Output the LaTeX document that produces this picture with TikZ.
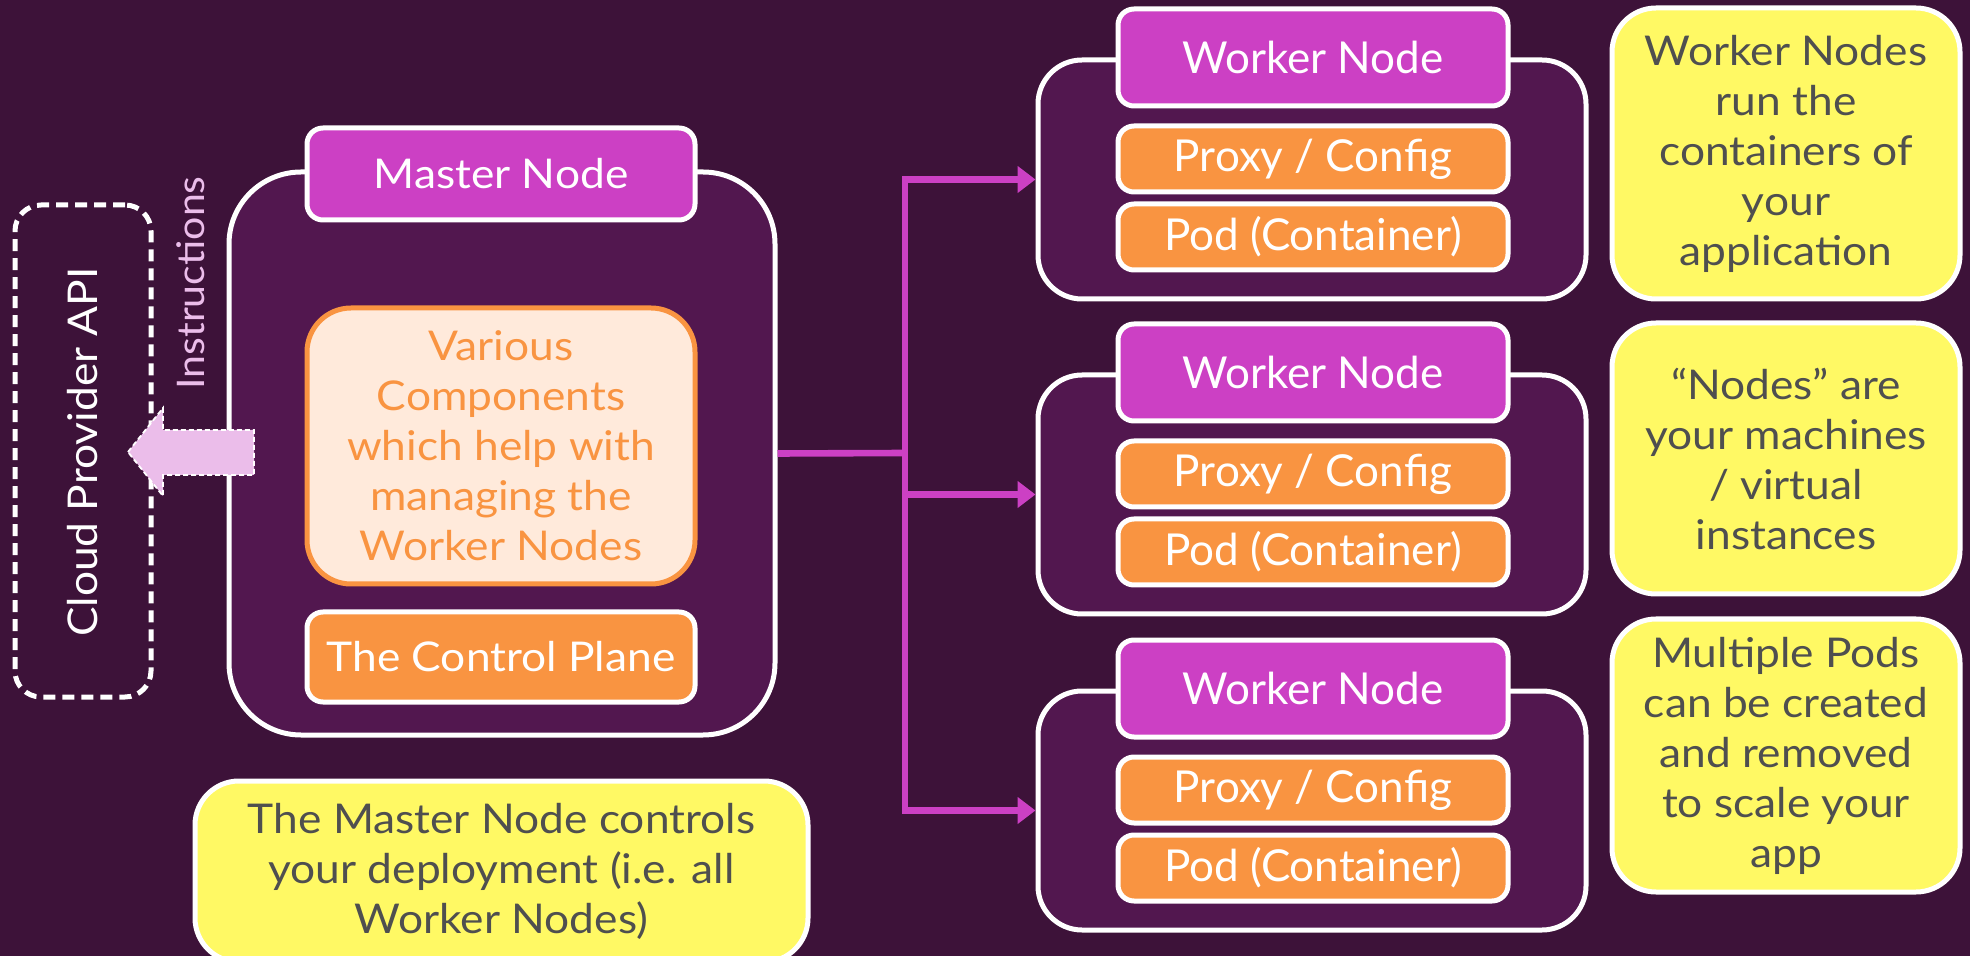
\documentclass[tikz,border=0pt]{standalone}
\usepackage{fontspec}
\setmainfont{Lato}
\newfontfamily\mul{Lato}[FakeStretch=1.08]
\usetikzlibrary{arrows.meta}
\definecolor{bg}{HTML}{3D1239}
\definecolor{boxfill}{HTML}{52174F}
\definecolor{mag}{HTML}{CC40C4}
\definecolor{orng}{HTML}{F99441}
\definecolor{peach}{HTML}{FFEADB}
\definecolor{yel}{HTML}{FFF964}
\definecolor{gtext}{HTML}{4F4F4F}
\definecolor{pinkarrow}{HTML}{EBBDEA}
\begin{document}
\begin{tikzpicture}[x=0.5pt,y=-0.5pt,
  box/.style={draw=white, line width=2.5pt, align=center, inner sep=0pt},
  outerbox/.style={box, fill=boxfill},
  hdr/.style={box, fill=mag, text=white, rounded corners=8pt, minimum width=194pt, minimum height=46pt, font=\mul\fontsize{20.5}{25}\selectfont},
  whdr/.style={box, fill=mag, text=white, rounded corners=8pt, minimum width=195pt, minimum height=48.5pt, font=\fontsize{22}{26}\selectfont},
  obox/.style={box, fill=orng, text=white, rounded corners=8pt, minimum width=195pt, minimum height=33pt, font=\fontsize{22}{26}\selectfont},
  note/.style={box, fill=yel, text=gtext, rounded corners=22pt, font=\mul\fontsize{20.5}{25}\selectfont},
  conn/.style={draw=mag, line width=3.3pt},
  arr/.style={conn, -{Triangle[length=9pt,width=13pt]}}
]
\fill[bg] (0,0) rectangle (1970,956);
\useasboundingbox (0,0) rectangle (1970,956);

% Cloud provider
\node[draw=white, line width=2.5pt, dash pattern=on 6pt off 3.5pt, rounded corners=13pt,
  minimum width=68pt, minimum height=246pt] (cloud) at (83,451) {};
\node[rotate=90, text=white, font=\mul\fontsize{20.5}{25}\selectfont] (cloudtxt) at (83,452) {Cloud Provider API};

% Master node
\node[outerbox, minimum width=273pt, minimum height=281.5pt, rounded corners=36pt] (master) at (502,453.5) {};
\node[hdr] (mhdr) at (501,174) {Master Node};
\node[box, draw=orng, fill=peach, text=orng, rounded corners=22pt, minimum width=194pt, minimum height=138pt,
  font=\mul\fontsize{20.5}{25}\selectfont] (comp) at (501,446)
  {Various\\ Components\\ which help with\\ managing the\\ Worker Nodes};
\node[box, fill=orng, text=white, rounded corners=8pt, minimum width=194pt, minimum height=45pt,
  font=\mul\fontsize{20.5}{25}\selectfont] (cp) at (501,657) {The Control Plane};

% Instructions arrow
\draw[white, line width=0.9pt, dash pattern=on 2.5pt off 1.5pt, fill=pinkarrow]
  (128,452) -- (163,408) -- (163,430) -- (254,430) -- (254,475) -- (163,475) -- (163,496) -- cycle;
\node[rotate=90, text=pinkarrow, font=\mul\fontsize{19}{23}\selectfont] (instr) at (191,283) {Instructions};

% Bottom note
\node[note, minimum width=306.5pt, minimum height=90.5pt] (mnote) at (501.5,871.5)
  {The Master Node controls\\ your deployment (i.e. all\\ Worker Nodes)};

% Worker nodes
\foreach \i/\dy in {1/0,2/315,3/631}{
  \node[outerbox, minimum width=274pt, minimum height=119.5pt, rounded corners=22pt] (w\i) at (1312,179.5+\dy) {};
  \node[whdr] (wh\i) at (1313,57.5+\dy) {Worker Node};
  \node[obox] (px\i) at (1313,159+\dy) {Proxy / Config};
  \node[obox] (pd\i) at (1313,237+\dy) {Pod (Container)};
}

% Connectors
\coordinate (junc) at (905,453);
\draw[conn] (master.east) -- (junc);
\draw[arr] (junc) |- (w1.west);
\draw[arr] (junc) |- (w2.west);
\draw[arr] (junc) |- (w3.west);

% Right notes
\node[note, minimum width=174pt, minimum height=145.5pt] (n1) at (1786,153.5)
  {Worker Nodes\\ run the\\ containers of\\ your\\ application};
\node[note, minimum width=174pt, minimum height=135.5pt] (n2) at (1786,458.5)
  {“Nodes” are\\ your machines\\ / virtual\\ instances};
\node[note, minimum width=174pt, minimum height=136.5pt] (n3) at (1786,755.5)
  {Multiple Pods\\ can be created\\ and removed\\ to scale your\\ app};
\end{tikzpicture}
\end{document}
